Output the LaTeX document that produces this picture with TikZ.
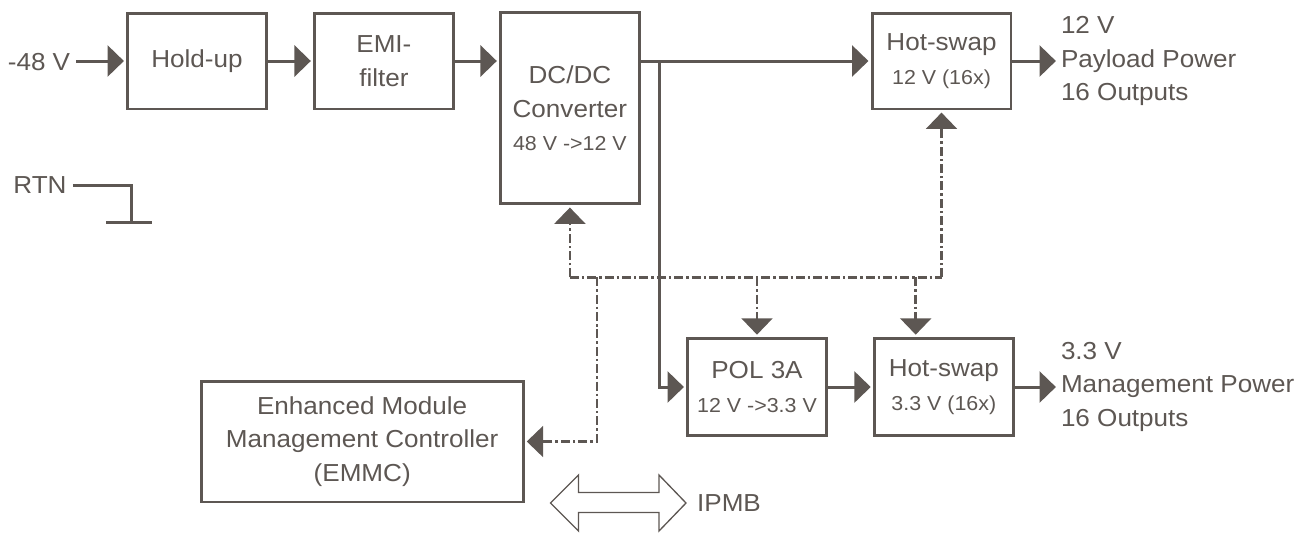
\documentclass[tikz,border=0pt]{standalone}
\usepackage{fontspec}
\setmainfont[FakeStretch=1.06]{Liberation Sans}
\usetikzlibrary{arrows.meta}
\definecolor{dgray}{RGB}{93,87,83}
\newcommand{\subtxt}[1]{{\fontsize{11.5}{13}\selectfont #1}}

\begin{document}
\begin{tikzpicture}[x=0.02cm, y=-0.02cm,
        every node/.style={text=dgray, font=\fontsize{14}{19}\selectfont},
        blk/.style={draw=dgray, line width=1.7pt, align=center, minimum width=2.78cm, minimum height=1.92cm, inner sep=0pt},
        wire/.style={draw=dgray, line width=1.7pt},
        pwr/.style={wire, -{Triangle[length=9.3pt, width=17.6pt]}, shorten >=1.2pt},
        ctl/.style={draw=dgray, line width=1.4pt, dash pattern=on 5.1pt off 1.7pt on 1.4pt off 1.7pt},
        ctlarr/.style={ctl, -{Triangle[length=9.3pt, width=17.6pt]}, shorten >=1.2pt},
        outtxt/.style={anchor=west, align=left, inner sep=1.5pt}]
        \useasboundingbox (0,0) rectangle (1308,532);

        \node[blk] (holdup) at (197,61) {Hold-up};
        \node[blk] (emi) at (383.9,61) {EMI-\\filter};
        \node[blk, minimum height=3.83cm] (dcdc) at (569.9,108.2) {DC/DC\\Converter\\\subtxt{48 V ->12 V}};
        \node[blk] (hs12) at (941.5,61) {Hot-swap\\\subtxt{12 V (16x)}};
        \node[blk, minimum height=1.95cm] (pol) at (757,387) {POL 3A\\\subtxt{12 V ->3.3 V}};
        \node[blk, minimum height=1.95cm] (hs33) at (943.8,387) {Hot-swap\\\subtxt{3.3 V (16x)}};
        \node[blk, minimum width=6.44cm, minimum height=2.42cm] (emmc) at (362.2,441.5) {Enhanced Module\\Management Controller\\(EMMC)};

        \node (vin) at (39,62) {-48 V};
        \node (rtn) at (40,185.5) {RTN};
        \node[outtxt] (out12) at (1058,61) {12 V\\Payload Power\\16 Outputs};
        \node[outtxt] (out33) at (1058,386.7) {3.3 V\\Management Power\\16 Outputs};
        \node[anchor=west, inner sep=1pt] (ipmb) at (695,503) {IPMB};

        % power path
        \draw[pwr] (vin.east |- holdup.west) -- (holdup.west);
        \draw[pwr] (holdup) -- (emi);
        \draw[pwr] (emi.east) -- (emi.east -| dcdc.west);
        \draw[pwr] (dcdc.east |- hs12.west) -- (hs12.west);
        \draw[pwr] (hs12.east) -- (hs12.east -| out12.west);
        \coordinate (split) at (659.2,61);
        \draw[pwr] (split) |- (pol.west);
        \draw[pwr] (pol) -- (hs33);
        \draw[pwr] (hs33.east) -- (hs33.east -| out33.west);

        % return
        \coordinate (gnd) at (131.7,222.7);
        \draw[wire] (rtn.east) -| (gnd);
        \draw[wire] ([xshift=-0.51cm]gnd) -- ([xshift=0.4cm]gnd);

        % control bus
        \coordinate (bus) at (0,277.3);
        \coordinate (tap33) at (915.7,277.3);
        \coordinate (tapE) at (596.8,277.3);
        \draw[ctl] (dcdc.south |- bus) -- (hs12.south |- bus);
        \draw[ctlarr] (dcdc.south |- bus) -- (dcdc.south);
        \draw[ctlarr] (hs12.south |- bus) -- (hs12.south);
        \draw[ctlarr] (pol.north |- bus) -- (pol.north);
        \draw[ctlarr] (tap33) -- (tap33 |- hs33.north);
        \draw[ctlarr] (tapE) |- (emmc.east);

        % IPMB
        \draw[dgray, line width=0.75pt] (550.5,503) -- (578.5,475) -- (578.5,492.5) -- (659,492.5) -- (659,475) -- (686,503)
            -- (659,531) -- (659,512.5) -- (578.5,512.5) -- (578.5,531) -- cycle;
    \end{tikzpicture}
\end{document}
